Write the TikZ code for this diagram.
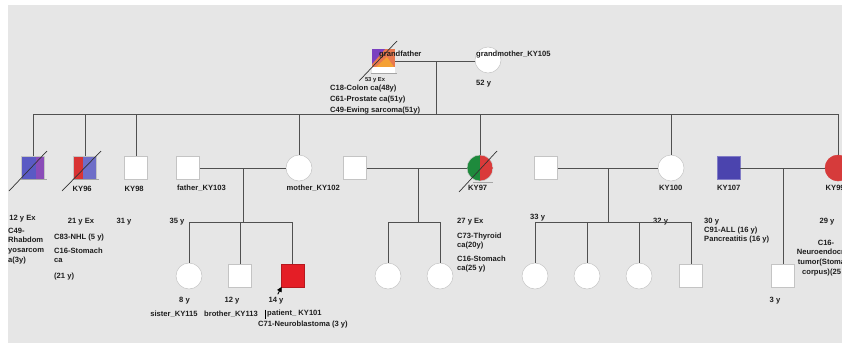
\documentclass[tikz,border=0pt]{standalone}
\usepackage{fontspec}
\setmainfont{Liberation Sans}
\usetikzlibrary{calc,arrows.meta}
\definecolor{bgc}{HTML}{E6E6E6}
\definecolor{linec}{HTML}{505050}
\definecolor{symb}{HTML}{C4C4C4}
\definecolor{txt}{HTML}{1E1E1E}
\definecolor{cblue}{HTML}{5A5AC4}
\definecolor{cpurp}{HTML}{8A4CB8}
\definecolor{cred}{HTML}{D93333}
\definecolor{cblue2}{HTML}{6E6EC8}
\definecolor{cgreen}{HTML}{1E8A3C}
\definecolor{cred2}{HTML}{DA3A3A}
\definecolor{pred}{HTML}{E41E26}
\definecolor{kblue}{HTML}{4B44AE}
\definecolor{kred}{HTML}{D63B3B}
\definecolor{gpur}{HTML}{7A40C0}
\definecolor{gsal}{HTML}{E8784E}
\definecolor{gora}{HTML}{F4A033}
\tikzset{
  lin/.style={draw=linec, line width=0.8pt},
  sq/.style={rectangle, minimum width=23pt, minimum height=23pt, inner sep=0pt, fill=white, draw=symb, line width=0.5pt},
  ci/.style={circle, minimum size=26pt, inner sep=0pt, fill=white, draw=symb, line width=0.5pt},
  lab/.style={font=\fontsize{7.6}{9.7}\selectfont\bfseries, inner sep=0pt, text=txt},
  smalllab/.style={font=\fontsize{5.8}{7}\selectfont\bfseries, inner sep=0pt, text=txt},
  dec/.style={draw=black!80, line width=0.7pt},
  shad/.style={draw=black!35, line width=0.6pt},
}
\begin{document}
\begin{tikzpicture}[x=1pt,y=-1pt]
\useasboundingbox (0,0) rectangle (842,343);
\clip (0,0) rectangle (842,343);
\fill[bgc] (8,5) rectangle (842,343);

% ---------- generation I ----------
\node[sq, minimum height=24pt, draw=none] (gf) at (383.5,61) {};
\fill[gsal] (372,49) rectangle (395,67);
\fill[gpur] (372,49) -- (385,49) -- (372,64) -- cycle;
\fill[gora] (376,67) -- (394,67) -- (387,57) -- cycle;
\fill[white] (372,67) rectangle (395,73);
\draw[shad] ($(gf.south west)+(-1,0)$) -- ($(gf.south east)+(2,0)$);
\node[ci] (gm) at (488,60) {};
\coordinate (gmid) at (436,61);
\coordinate (sibL) at (33,114);
\coordinate (sibR) at (838,114);
\draw[lin] (gf.east |- gmid) -- (gm.west |- gmid);
\draw[lin] (gmid) -- (gmid |- sibL);
\draw[lin] (sibL) -- (sibR);
\draw[dec] ($(gf)+(-24.5,20)$) -- ($(gf)+(13.5,-20)$);
\node[lab, anchor=west] (gflab) at (379,55) {grandfather};
\node[lab, anchor=west] (gmlab) at (476,55) {grandmother\_KY105};
\node[lab, anchor=west] (gmage) at (476,84) {52 y};
\node[smalllab] (gfage) at (375,80) {53 y Ex};
\node[lab, anchor=west] (gfd1) at (330,89) {C18-Colon ca(48y)};
\node[lab, anchor=west] (gfd2) at (330,100) {C61-Prostate ca(51y)};
\node[lab, anchor=west] (gfd3) at (330,111) {C49-Ewing sarcoma(51y)};

% ---------- generation II ----------
\node[sq, path picture={
  \fill[cblue] (path picture bounding box.south west) rectangle ([xshift=-9pt]path picture bounding box.north east);
  \fill[cpurp] ([xshift=-9pt]path picture bounding box.south east) rectangle (path picture bounding box.north east);}] (a1) at (33,168) {};
\node[sq, path picture={
  \fill[cred] (path picture bounding box.south west) rectangle ([xshift=-14pt]path picture bounding box.north east);
  \fill[cblue2] ([xshift=-14pt]path picture bounding box.south east) rectangle (path picture bounding box.north east);}] (a2) at (85,168) {};
\node[sq] (a3) at (136,168) {};
\node[sq] (fa) at (188,168) {};
\node[ci] (mo) at (299,168) {};
\node[sq] (h2) at (355,168) {};
\node[ci, path picture={
  \fill[cgreen] (path picture bounding box.south west) rectangle (path picture bounding box.north);
  \fill[cred2] (path picture bounding box.south) rectangle (path picture bounding box.north east);}] (k97) at (480,168) {};
\node[sq] (h3) at (546,168) {};
\node[ci] (k100) at (671,168) {};
\node[sq, fill=kblue, draw=kblue!70] (k107) at (728.5,168) {};
\node[ci, fill=kred, draw=kred] (k99) at (838,168) {};

\foreach \n in {a1,a2,a3,mo,k97,k100,k99}{
  \draw[lin] (\n.north |- sibL) -- (\n.north);
}
\draw[shad] ($(a1.south west)$) -- ($(a1.south east)+(2,0)$);
\draw[shad] ($(a2.south west)$) -- ($(a2.south east)+(2,0)$);
\draw[shad] ($(k97.south)+(-7,1)$) -- ($(k97.south)+(13,1)$);
\draw[dec] ($(a1)+(-24,23)$) -- ($(a1)+(14,-17)$);
\draw[dec] ($(a2)+(-23,23)$) -- ($(a2)+(16,-17)$);
\draw[dec] ($(k97)+(-21,24)$) -- ($(k97)+(17,-17)$);

% marriages
\coordinate (m1) at (243,168);
\coordinate (s1) at (243,222);
\draw[lin] (fa.east) -- (mo.west);
\draw[lin] (m1) -- (s1);
\coordinate (m2) at (418,168);
\coordinate (s2) at (418,222);
\draw[lin] (h2.east) -- (k97.west);
\draw[lin] (m2) -- (s2);
\coordinate (m3) at (608,168);
\coordinate (s3) at (608,222);
\draw[lin] (h3.east) -- (k100.west);
\draw[lin] (m3) -- (s3);
\coordinate (m4) at (783,168);
\draw[lin] (k107.east) -- (k99.west);

% generation II labels
\node[lab] (l12) at (22.5,219) {12 y Ex};
\node[lab, anchor=north west, align=left] (l12d) at (8,227.5) {C49-\\Rhabdom\\yosarcom\\a(3y)};
\node[lab, anchor=west] (l96) at (72.5,189) {KY96};
\node[lab] (l21) at (81,222) {21 y Ex};
\node[lab, anchor=west] (l21a) at (54,238) {C83-NHL (5 y)};
\node[lab, anchor=north west, align=left] (l21b) at (54,247.5) {C16-Stomach\\ca};
\node[lab, anchor=west] (l21c) at (54,277) {(21 y)};
\node[lab, anchor=west] (l98) at (124.5,189) {KY98};
\node[lab] (l31) at (124,222) {31 y};
\node[lab, anchor=west] (lfa) at (177,188) {father\_KY103};
\node[lab] (l35) at (177,222) {35 y};
\node[lab, anchor=west] (lmo) at (286.5,188) {mother\_KY102};
\node[lab, anchor=west] (l97) at (468,188) {KY97};
\node[lab, anchor=west] (l27) at (457,222) {27 y Ex};
\node[lab, anchor=north west, align=left] (l97a) at (457,232.5) {C73-Thyroid\\ca(20y)};
\node[lab, anchor=north west, align=left] (l97b) at (457,255.5) {C16-Stomach\\ca(25 y)};
\node[lab, anchor=west] (l100) at (659,188) {KY100};
\node[lab, anchor=west] (l33) at (530,218) {33 y};
\node[lab, anchor=west] (l32) at (653,222) {32 y};
\node[lab, anchor=west] (l107) at (717,188) {KY107};
\node[lab, anchor=north west, align=left, font=\fontsize{7.6}{9}\selectfont\bfseries] (l30) at (704,218) {30 y\\C91-ALL (16 y)\\Pancreatitis (16 y)};
\node[lab, anchor=west] (l99) at (825.5,188) {KY99};
\node[lab] (l29) at (827,222) {29 y};
\node[lab, anchor=north, align=center] (l99d) at (826,239.5) {C16-\\Neuroendocrine\\tumor(Stomach\\corpus)(25 y)};

% ---------- generation III ----------
\node[ci] (sis) at (189,276) {};
\node[sq] (bro) at (240,275.5) {};
\node[sq, fill=pred, draw=pred!80!black] (pat) at (292.5,275.5) {};
\draw[lin] (sis.north |- s1) -- (pat.north |- s1);
\foreach \n in {sis,bro,pat}{\draw[lin] (\n.north |- s1) -- (\n.north);}
\draw[-{Triangle[length=5pt,width=5pt]}, black, line width=0.9pt] ($(pat.south west)+(-3,7)$) -- ($(pat.south west)+(1,-0.5)$);

\node[ci] (c1) at (388,276) {};
\node[ci] (c2) at (440,276) {};
\draw[lin] (c1.north |- s2) -- (c2.north |- s2);
\foreach \n in {c1,c2}{\draw[lin] (\n.north |- s2) -- (\n.north);}

\node[ci] (d1) at (535,276) {};
\node[ci] (d2) at (587,276) {};
\node[ci] (d3) at (639,276) {};
\node[sq] (d4) at (691,275.5) {};
\draw[lin] (d1.north |- s3) -- (d4.north |- s3);
\foreach \n in {d1,d2,d3,d4}{\draw[lin] (\n.north |- s3) -- (\n.north);}

\node[sq] (e1) at (783,275.5) {};
\draw[lin] (m4) -- (e1.north);

\node[lab] (l8) at (184.5,300.5) {8 y};
\node[lab] (l12b) at (232,300.5) {12 y};
\node[lab] (l14) at (276,300.5) {14 y};
\node[lab] (lsis) at (174,314) {sister\_KY115};
\node[lab] (lbro) at (231,314) {brother\_KY113};
\draw[black, line width=0.4pt] (265,309.5) -- (265,319);
\node[lab, anchor=west] (lpat) at (267,314) {patient\_ KY101};
\node[lab, anchor=west] (lpatd) at (258,325) {C71-Neuroblastoma (3 y)};
\node[lab] (l3) at (775,300.5) {3 y};
\end{tikzpicture}
\end{document}
